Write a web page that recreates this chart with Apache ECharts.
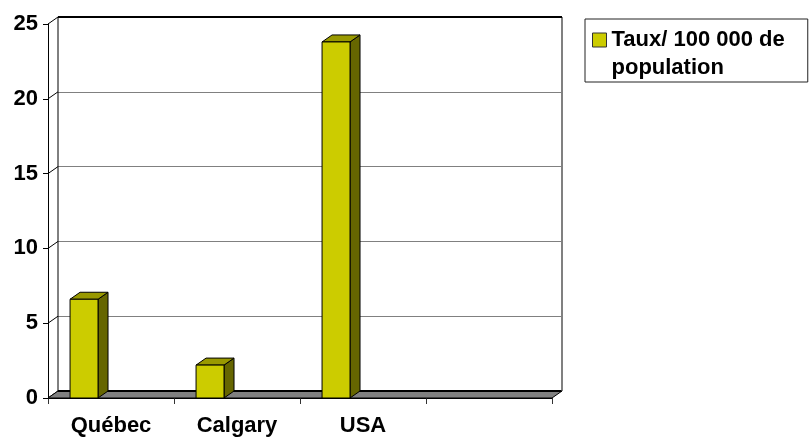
<!DOCTYPE html>
<html>
<head>
<meta charset="utf-8">
<script src="https://cdn.jsdelivr.net/npm/echarts@6/dist/echarts.min.js"></script>
<style>
  html, body { margin: 0; padding: 0; background: #fff; }
  #chart { width: 811px; height: 439px; }
</style>
</head>
<body>
<div id="chart"></div>
<script>
// Taux pour 100 000 de population
const categories = ['Québec', 'Calgary', 'USA', ''];
const rates = [6.6, 2.2, 23.8];
const yTicks = [0, 5, 10, 15, 20, 25];
const seriesName = 'Taux/ 100 000 de\npopulation';

// depth of the 3D box (wall/floor/bars offset)
const DX = 10, DY = 7;
const FONT = 'Liberation Sans, Arial, sans-serif';

const chart = echarts.init(document.getElementById('chart'), null, { renderer: 'canvas' });

const labelStyle = { fontFamily: FONT, fontSize: 22, fontWeight: 'bold', color: '#000' };

const option = {
  animation: false,
  backgroundColor: '#fff',
  grid: [
    // front plane
    { left: 48, top: 24, width: 504, height: 374 },
    // back wall
    { left: 48 + DX, top: 24 - DY, width: 504, height: 374, show: true, backgroundColor: '#fff', borderWidth: 0 }
  ],
  xAxis: [
    {
      gridIndex: 0, type: 'category', data: categories, boundaryGap: true,
      axisLine: { show: true, lineStyle: { color: '#000', width: 1 } },
      axisTick: { show: true, length: 6, lineStyle: { color: '#333' } },
      axisLabel: Object.assign({ margin: 17, interval: 0 }, labelStyle),
      z: 1
    },
    {
      gridIndex: 1, type: 'category', data: categories, show: false
    }
  ],
  yAxis: [
    {
      gridIndex: 0, type: 'value', min: 0, max: 25, interval: 5,
      axisLine: { show: true, lineStyle: { color: '#000', width: 1 } },
      axisTick: { show: true, length: 5, lineStyle: { color: '#000' } },
      axisLabel: Object.assign({ margin: 10 }, labelStyle),
      splitLine: { show: false },
      z: 6
    },
    {
      gridIndex: 1, type: 'value', min: 0, max: 25, interval: 5,
      axisLine: { show: false }, axisTick: { show: false }, axisLabel: { show: false },
      splitLine: { show: true, lineStyle: { color: '#808080', width: 1 } }
    }
  ],
  legend: {
    left: 585, top: 19,
    orient: 'vertical',
    padding: [7, 23, 0, 7],
    borderColor: '#222', borderWidth: 1,
    itemWidth: 14, itemHeight: 42, itemGap: 0,
    symbolKeepAspect: true,
    data: [{ name: seriesName, icon: 'path://M0,0H14V14H0ZM0,42' }],
    itemStyle: { color: '#CCCC00', borderColor: '#333', borderWidth: 1 },
    textStyle: Object.assign({ lineHeight: 28 }, labelStyle)
  },
  series: [
    // outline of the back wall
    {
      type: 'custom', xAxisIndex: 1, yAxisIndex: 1, z: 2, silent: true,
      data: [0],
      renderItem: function (params, api) {
        const cs = params.coordSys;
        return {
          type: 'group', children: [
            { type: 'line', shape: { x1: cs.x + cs.width, y1: cs.y, x2: cs.x + cs.width, y2: cs.y + cs.height }, style: { stroke: '#808080', lineWidth: 2 } },
            { type: 'line', shape: { x1: cs.x, y1: cs.y, x2: cs.x + cs.width, y2: cs.y }, style: { stroke: '#000', lineWidth: 2 } },
            { type: 'line', shape: { x1: cs.x, y1: cs.y, x2: cs.x, y2: cs.y + cs.height }, style: { stroke: '#000', lineWidth: 1 } }
          ]
        };
      }
    },
    // connectors from the front value axis ticks to the wall grid lines
    {
      type: 'custom', xAxisIndex: 0, yAxisIndex: 0, z: 3, silent: true,
      data: yTicks.map(v => [0, v]),
      renderItem: function (params, api) {
        const cs = params.coordSys;
        const y = api.coord([0, api.value(1)])[1];
        return { type: 'line', shape: { x1: cs.x, y1: y, x2: cs.x + DX, y2: y - DY }, style: { stroke: '#000', lineWidth: 1 } };
      }
    },
    // floor
    {
      type: 'custom', xAxisIndex: 0, yAxisIndex: 0, z: 4, silent: true,
      data: [0],
      renderItem: function (params, api) {
        const cs = params.coordSys;
        const yb = api.coord([0, 0])[1];
        const x0 = cs.x, x1 = cs.x + cs.width;
        return {
          type: 'group', children: [
            { type: 'polygon', shape: { points: [[x0, yb], [x1, yb], [x1 + DX, yb - DY], [x0 + DX, yb - DY]] }, style: { fill: '#808080', stroke: '#000', lineWidth: 1 } },
            { type: 'line', shape: { x1: x0 + DX, y1: yb - DY, x2: x1 + DX - 1, y2: yb - DY }, style: { stroke: '#000', lineWidth: 2 } }
          ]
        };
      }
    },
    // 3D columns
    {
      name: seriesName,
      type: 'custom', xAxisIndex: 0, yAxisIndex: 0, z: 5,
      itemStyle: { color: '#CCCC00' },
      encode: { x: 0, y: 1 },
      data: rates.map((v, i) => [i, v]),
      renderItem: function (params, api) {
        const idx = api.value(0), val = api.value(1);
        const top = api.coord([idx, val]);
        const base = api.coord([idx, 0]);
        const band = api.size([1, 0])[0];
        const x0 = top[0] - band * 0.325;
        const w = band * 0.222;
        const yt = top[1], yb = base[1];
        const line = { stroke: '#000', lineWidth: 1, lineJoin: 'round' };
        return {
          type: 'group', children: [
            { type: 'polygon', shape: { points: [[x0 + w, yt], [x0 + w + DX, yt - DY], [x0 + w + DX, yb - DY], [x0 + w, yb]] }, style: Object.assign({ fill: '#666600' }, line) },
            { type: 'polygon', shape: { points: [[x0, yt], [x0 + DX, yt - DY], [x0 + w + DX, yt - DY], [x0 + w, yt]] }, style: Object.assign({ fill: '#999900' }, line) },
            { type: 'rect', shape: { x: x0, y: yt, width: w, height: yb - yt }, style: Object.assign({ fill: '#CCCC00' }, line) }
          ]
        };
      }
    }
  ]
};

chart.setOption(option);
</script>
</body>
</html>
